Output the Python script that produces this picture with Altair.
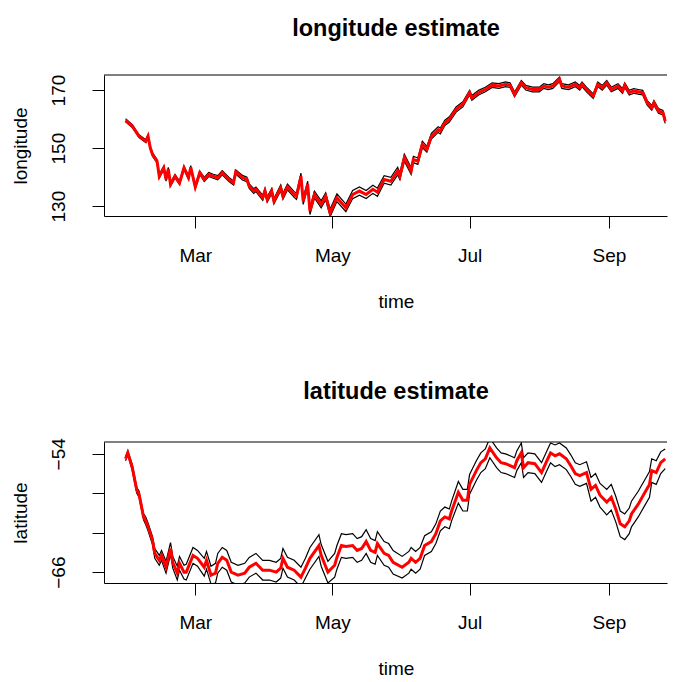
import altair as alt
import pandas as pd

YEAR = 2011

# ---- longitude estimate (day of year, estimate, half-width of band) ----
lon_doy = [29,32,35,38,39,40,41,43,44,46, 47,48,49,51,53,55,57,58,60,62,
           64,66,68,70,72,75,77,78,81,83, 84,86,87,90,91,92,94,95,98,99,
           101,104,105,107,108,110,111,113,116,118, 120,123,127,130,133,136,139,141,144,147,
           150,151,153,156,157,159,161,163,165,168, 169,171,173,176,179,182,183,186,189,192,
           195,198,200,202,205,207,210,213,215,217, 219,222,223,226,229,231,232,234,237,239,
           241,243,245,248,250,251,253,255,257,259, 261,263,264,266,268,269]
lon_est = [159.6,157.6,154.1,152.4,154.1,150.1,147.8,145.5,140.3,143.2,
           139.2,142.8,137.5,140.3,138.0,143.2,139.8,143.4,136.6,141.5,
           139.2,140.9,140.3,139.8,141.5,139.2,138.0,141.8,139.8,139.2,
           136.9,135.2,135.8,132.9,135.2,132.3,135.2,131.7,136.3,133.4,
           136.6,134.0,133.4,140.3,131.7,137.5,128.3,134.0,130.6,133.4,
           127.7,132.9,129.4,134.0,135.2,134.0,135.8,134.8,139.2,138.6,
           142.1,140.3,146.7,142.1,146.1,145.5,151.3,149.6,154.1,156.4,
           155.9,158.7,159.9,163.3,165.1,169.1,167.3,169.1,170.2,171.7,
           171.4,172.0,171.7,168.5,172.5,170.8,170.2,170.2,171.4,171.0,
           171.4,173.7,171.4,171.0,172.0,170.8,172.0,170.2,167.9,172.0,
           170.8,172.5,170.2,171.4,169.7,171.7,169.1,169.7,169.4,169.1,
           165.6,163.9,165.6,162.8,162.2,159.3]
lon_hw = [0.5,0.5,0.5,0.5,0.5,0.5,0.6,0.6,0.6,0.6, 0.6,0.6,0.6,0.6,0.6,0.6,0.6,0.6,0.6,0.6,
          0.7,0.7,0.7,0.7,0.7,0.7,0.7,0.7,0.8,0.8, 0.8,0.8,0.8,0.9,0.9,0.9,0.9,0.9,1.0,1.0,
          1.0,1.0,1.1,1.1,1.1,1.1,1.2,1.2,1.2,1.2, 1.3,1.3,1.3,1.4,1.4,1.4,1.4,1.4,1.3,1.3,
          1.3,1.2,1.2,1.2,1.1,1.1,1.1,1.0,1.0,1.0, 1.0,0.9,0.9,0.9,0.9,0.8,0.8,0.8,0.8,0.8,
          0.8,0.8,0.8,0.8,0.8,0.8,0.8,0.8,0.8,0.8, 0.8,0.8,0.8,0.8,0.8,0.8,0.8,0.8,0.8,0.8,
          0.8,0.8,0.8,0.8,0.8,0.8,0.8,0.8,0.8,0.8, 0.8,0.8,0.8,0.8,0.8,0.8]

# ---- latitude estimate ----
lat_doy = [29,30,32,34,35,37,38,39,41,42, 44,45,47,49,50,52,53,55,56,59,
           61,64,65,67,69,70,72,74,76,79, 82,84,87,90,93,96,98,99,101,104,
           107,109,111,115,116,119,122,123,125,127, 130,132,134,136,138,140,141,144,146,148,
           152,155,156,158,160,162,165,167,169,171, 173,174,177,179,181,182,185,187,189,191,
           194,196,198,200,202,203,205,206,208,211, 214,216,218,220,222,225,227,229,231,234,
           236,238,240,243,245,247,249,251,253,254, 257,260,262,263,265,267,269]
lat_est = [-54.5,-53.9,-55.4,-57.7,-58.1,-60.4,-60.8,-61.4,-62.8,-64.1,
           -64.8,-64.3,-65.5,-63.6,-65.0,-66.1,-65.1,-66.0,-66.0,-64.3,
           -64.6,-65.5,-64.8,-66.3,-66.1,-65.1,-64.5,-64.8,-66.0,-66.3,
           -66.1,-65.5,-65.1,-65.8,-65.8,-66.0,-65.6,-64.6,-65.5,-65.8,
           -66.5,-65.6,-64.6,-63.3,-64.3,-66.0,-65.3,-64.5,-63.3,-63.4,
           -63.3,-63.8,-63.6,-62.9,-63.8,-64.0,-63.1,-64.1,-64.3,-65.0,
           -65.5,-65.0,-64.6,-65.0,-64.6,-63.3,-62.9,-62.1,-60.8,-60.4,
           -60.6,-59.8,-57.9,-58.7,-58.7,-57.1,-55.7,-54.9,-54.5,-53.4,
           -54.4,-54.9,-55.0,-55.2,-55.4,-54.7,-53.9,-55.4,-54.9,-55.0,
           -55.9,-54.9,-53.9,-54.2,-54.0,-54.5,-55.2,-56.0,-56.2,-55.9,
           -57.6,-57.2,-58.2,-58.9,-58.4,-59.6,-61.1,-61.4,-60.8,-60.1,
           -59.1,-57.9,-57.1,-55.7,-55.9,-54.9,-54.5]
lat_hw = [0.2,0.2,0.3,0.3,0.3,0.3,0.4,0.4,0.4,0.5, 0.5,0.5,0.6,0.6,0.6,0.7,0.7,0.7,0.8,0.8,
          0.8,0.9,0.9,0.9,1.0,1.0,1.0,1.0,1.0,1.0, 1.0,1.0,1.0,1.0,1.0,1.0,1.0,1.0,1.0,1.0,
          1.0,1.0,1.1,1.1,1.1,1.1,1.2,1.2,1.2,1.2, 1.2,1.2,1.2,1.2,1.2,1.2,1.2,1.2,1.2,1.2,
          1.1,1.1,1.1,1.1,1.1,1.0,1.0,1.0,1.0,1.0, 1.0,1.0,1.1,1.1,1.1,1.0,1.0,1.0,1.0,1.0,
          1.0,1.0,1.0,1.0,1.0,1.0,1.0,1.0,1.0,1.0, 1.0,1.0,1.0,1.1,1.1,1.1,1.1,1.1,1.1,1.1,
          1.2,1.2,1.2,1.3,1.3,1.3,1.3,1.3,1.3,1.3, 1.3,1.3,1.3,1.2,1.2,1.1,1.0]

lon_ticks = [130, 140, 150, 160, 170]
lat_ticks = [-66, -64, -62, -60, -58, -56, -54]
month_ticks = [(3, 1), (5, 1), (7, 1), (9, 1)]  # Mar, May, Jul, Sep
lon_domain = [126.6, 175.2]
lat_domain = [-67.1, -52.8]

FONT = "Liberation Sans"
W, H = 563, 141
CENTER = 292  # horizontal centre of the original (wider) plot region


def frame(doy, est, hw):
    base = pd.Timestamp(f"{YEAR}-01-01")
    dates = [(base + pd.Timedelta(days=d - 1)).strftime("%Y-%m-%d") for d in doy]
    return pd.DataFrame({
        "date": dates,
        "est": est,
        "lo": [e - h for e, h in zip(est, hw)],
        "hi": [e + h for e, h in zip(est, hw)],
    })


x_scale = alt.Scale(
    type="utc",
    domain=[alt.DateTime(year=YEAR, month=1, date=19, hours=10, utc=True),
            alt.DateTime(year=YEAR, month=9, date=26, hours=19, utc=True)],
)
x_axis = alt.Axis(
    values=[alt.DateTime(year=YEAR, month=m, date=d, utc=True) for m, d in month_ticks],
    format="%b", title="time", labelBaseline="alphabetic", labelPadding=33,
    titleBaseline="alphabetic", titleY=91, titleX=CENTER, titleAnchor="middle",
)


def panel(df, ylab, ticks, dom, label_expr, title):
    y_axis = alt.Axis(
        values=ticks, title=ylab, labelExpr=label_expr, labelAngle=270,
        labelAlign="center", labelBaseline="alphabetic", labelPadding=27.5,
        titleAngle=270, titleAlign="center", titleBaseline="alphabetic",
        titleX=-78, titleY=H / 2,
    )
    x = alt.X("date:T", scale=x_scale, axis=x_axis)
    ys = alt.Scale(domain=dom, nice=False, zero=False)
    base = alt.Chart(df)
    lo = base.mark_line(color="black", strokeWidth=1.2, clip=True).encode(
        x=x, y=alt.Y("lo:Q", scale=ys, axis=y_axis))
    hi = base.mark_line(color="black", strokeWidth=1.2, clip=True).encode(
        x=x, y=alt.Y("hi:Q", scale=ys))
    est = base.mark_line(color="#FF0000", strokeWidth=3, clip=True).encode(
        x=x, y=alt.Y("est:Q", scale=ys))
    top_edge = alt.Chart(pd.DataFrame({"edge": [0]})).mark_rule(
        color="black", strokeWidth=1).encode(y=alt.value(0))
    return alt.layer(lo, hi, est, top_edge).properties(
        width=W, height=H,
        title=alt.Title(title, fontSize=23.5, fontWeight="bold", font=FONT,
                        color="black", baseline="alphabetic", offset=15,
                        anchor="middle", dx=CENTER - W / 2),
    )


top = panel(frame(lon_doy, lon_est, lon_hw), "longitude", lon_ticks, lon_domain,
            "datum.value % 20 == 10 ? datum.label : ''", "longitude estimate")
bottom = panel(frame(lat_doy, lat_est, lat_hw), "latitude", lat_ticks, lat_domain,
               "datum.value % 6 == 0 ? datum.label : ''", "latitude estimate")

chart = alt.vconcat(top, bottom, spacing=226, bounds="flush").properties(
    padding={"left": 3, "top": 8, "right": 0, "bottom": 0},
    background="white",
).configure_view(
    strokeWidth=0,
).configure_axis(
    labelFont=FONT, labelFontSize=19, labelColor="black",
    titleFont=FONT, titleFontSize=19, titleFontWeight="normal", titleColor="black",
    tickColor="black", tickSize=12, tickWidth=1, grid=False,
    domain=True, domainColor="black", domainWidth=1,
    labelOverlap=False,
)

chart.save("out.html", embed_options={"renderer": "svg", "actions": False})
